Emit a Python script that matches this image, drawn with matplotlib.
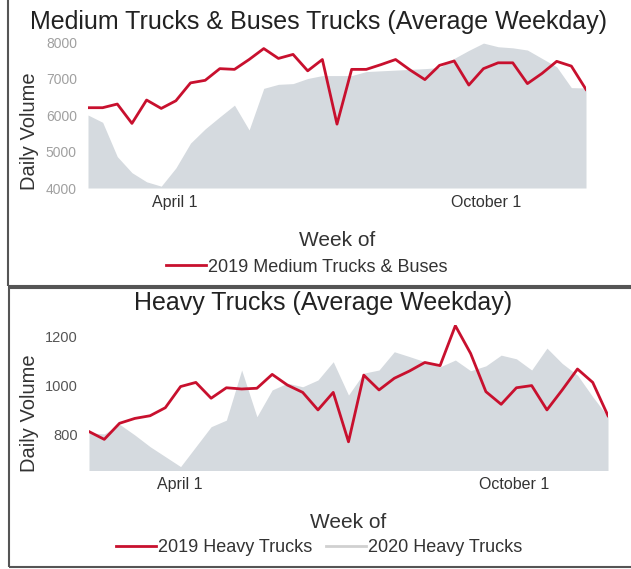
import matplotlib.pyplot as plt
from matplotlib.lines import Line2D
from matplotlib.patches import Rectangle

weeks = list(range(35))

medium_2019 = [6200, 6200, 6300, 5770, 6410, 6180, 6390, 6880, 6950, 7270,
               7250, 7520, 7820, 7550, 7660, 7210, 7520, 5750, 7250, 7250,
               7380, 7520, 7230, 6970, 7360, 7480, 6820, 7270, 7430, 7430,
               6860, 7140, 7470, 7340, 6700]
medium_2020 = [6000, 5800, 4860, 4420, 4170, 4050, 4550, 5230, 5620, 5950,
               6270, 5590, 6730, 6840, 6860, 7000, 7080, 7080, 7080, 7190,
               7210, 7230, 7250, 7270, 7300, 7550, 7770, 7970, 7870, 7840,
               7780, 7550, 7320, 6750, 6740]

heavy_2019 = [810, 778, 844, 864, 875, 908, 995, 1012, 947, 990,
              985, 988, 1045, 1001, 971, 899, 971, 768, 1042, 981,
              1029, 1059, 1094, 1081, 1245, 1131, 974, 922, 990, 999,
              899, 981, 1067, 1012, 875]
heavy_2020 = [805, 800, 840, 796, 748, 707, 666, 748, 830, 857,
              1063, 871, 981, 1009, 994, 1022, 1097, 960, 1050, 1063,
              1138, 1118, 1097, 1076, 1104, 1060, 1080, 1124, 1109, 1063,
              1153, 1090, 1042, 953, 871]

red = '#c8102e'
grey = '#d5dadf'

plt.rcParams['font.family'] = ['Liberation Sans', 'DejaVu Sans']

W, H = 631, 569
fig = plt.figure(figsize=(W / 100, H / 100), dpi=100)

# panel borders
fig.add_artist(Rectangle((8 / W, 1 - 286 / H), 1, 290 / H, transform=fig.transFigure,
                         fill=False, ec='#555555', lw=1.5))
fig.add_artist(Rectangle((9 / W, 1 - 567 / H), 1, 279 / H, transform=fig.transFigure,
                         fill=False, ec='#555555', lw=1.5))

# top chart
ax1 = fig.add_axes([88 / W, 1 - 188 / H, 498 / W, 146 / H])
ax1.fill_between(weeks, medium_2020, 4000, color=grey, lw=0)
ax1.plot(weeks, medium_2019, color=red, lw=2)
ax1.set_xlim(0, 34)
ax1.set_ylim(4000, 8000)
ax1.set_yticks([4000, 5000, 6000, 7000, 8000])
ax1.set_xticks([5.94, 27.2], ['April 1', 'October 1'])
ax1.tick_params(axis='y', length=0, labelsize=10, labelcolor='#a0a0a0', pad=8)
ax1.tick_params(axis='x', length=0, labelsize=11.5, labelcolor='#333333', pad=5)
for s in ax1.spines.values():
    s.set_visible(False)
ax1.set_ylabel('Daily Volume', fontsize=14.5, color='#333333')
ax1.yaxis.set_label_coords(-0.098, 0.39)
ax1.set_xlabel('Week of', fontsize=15, color='#333333', labelpad=15)
fig.text(318 / W, 1 - 22 / H, 'Medium Trucks & Buses Trucks (Average Weekday)',
         ha='center', va='center', fontsize=18, color='#222222')
fig.legend(handles=[Line2D([], [], color=red, lw=2)],
           labels=['2019 Medium Trucks & Buses'],
           loc='center', bbox_to_anchor=(307 / W, 1 - 267 / H), frameon=False,
           fontsize=13, handlelength=2.2, handletextpad=0.1, labelcolor='#333333')

# bottom chart
ax2 = fig.add_axes([89 / W, 1 - 470.5 / H, 519 / W, 146 / H])
ax2.fill_between(weeks, heavy_2020, 650, color=grey, lw=0)
ax2.plot(weeks, heavy_2019, color=red, lw=2)
ax2.set_xlim(0, 34)
ax2.set_ylim(650, 1250)
ax2.set_yticks([800, 1000, 1200])
ax2.set_xticks([5.96, 27.85], ['April 1', 'October 1'])
ax2.tick_params(axis='y', length=0, labelsize=10.5, labelcolor='#555555', pad=8)
ax2.tick_params(axis='x', length=0, labelsize=11.5, labelcolor='#333333', pad=5)
for s in ax2.spines.values():
    s.set_visible(False)
ax2.set_ylabel('Daily Volume', fontsize=14.5, color='#333333')
ax2.yaxis.set_label_coords(-0.096, 0.394)
ax2.set_xlabel('Week of', fontsize=15, color='#333333', labelpad=15)
fig.text(323 / W, 1 - 303 / H, 'Heavy Trucks (Average Weekday)',
         ha='center', va='center', fontsize=18, color='#222222')
fig.legend(handles=[Line2D([], [], color=red, lw=2), Line2D([], [], color='#d0d0d0', lw=2)],
           labels=['2019 Heavy Trucks', '2020 Heavy Trucks'], ncol=2,
           loc='center', bbox_to_anchor=(319 / W, 1 - 548 / H), frameon=False,
           fontsize=13, handlelength=2.2, handletextpad=0.1, columnspacing=0.8,
           labelcolor='#333333')

fig.savefig('out.png', dpi=100, facecolor='white')
